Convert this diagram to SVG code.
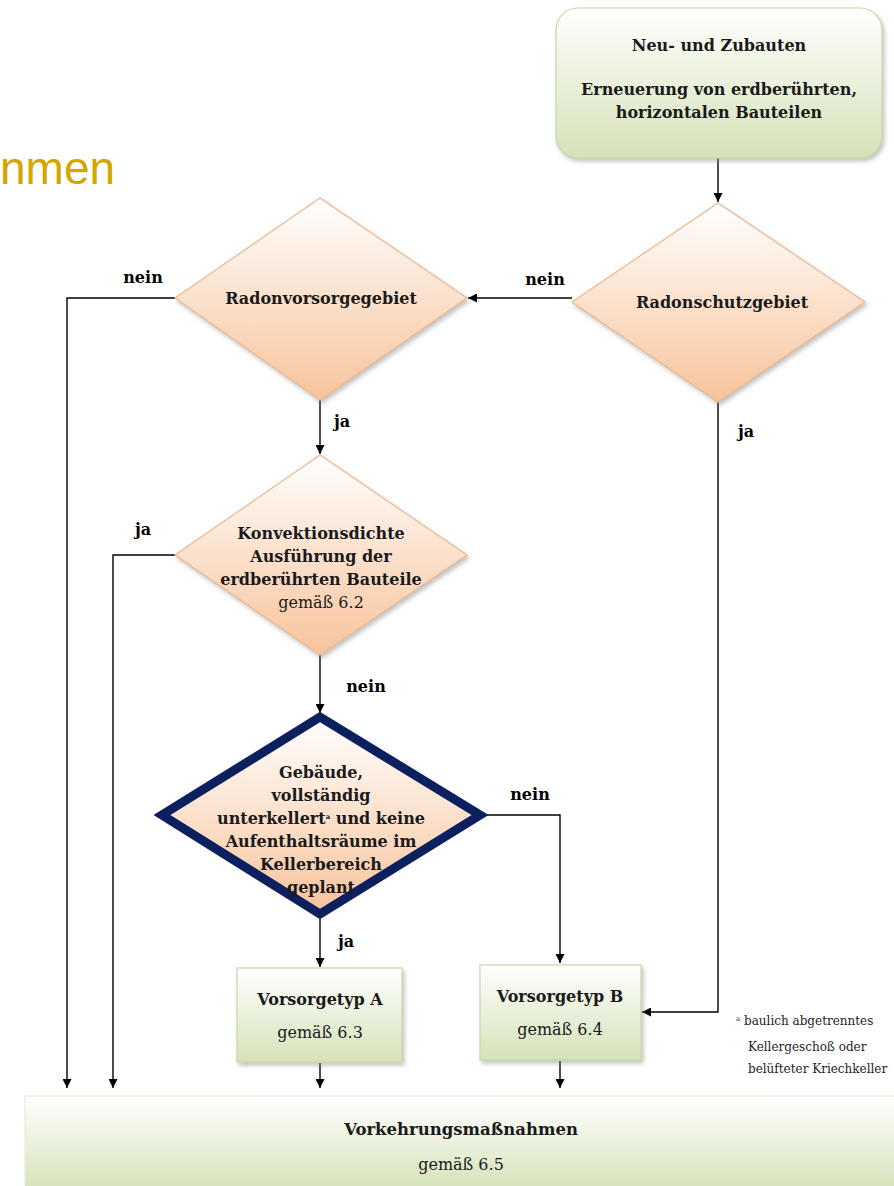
<svg xmlns="http://www.w3.org/2000/svg" width="894" height="1186" viewBox="0 0 894 1186">
<defs>
<linearGradient id="gGreen" x1="0" y1="0" x2="0" y2="1"><stop offset="0" stop-color="#ffffff"/><stop offset="1" stop-color="#d5e2b8"/></linearGradient>
<linearGradient id="gPeach" x1="0" y1="0" x2="0" y2="1"><stop offset="0" stop-color="#ffffff"/><stop offset="1" stop-color="#f7c39a"/></linearGradient>
<filter id="sh" x="-10%" y="-10%" width="130%" height="130%"><feDropShadow dx="2" dy="3" stdDeviation="2" flood-color="#888" flood-opacity="0.5"/></filter>
<marker id="arr" viewBox="0 0 10 10" refX="10" refY="5" markerWidth="9" markerHeight="9" markerUnits="userSpaceOnUse" orient="auto"><path d="M0,0 L10,5 L0,10 z" fill="#000"/></marker>
<style>
.t{font-family:"DejaVu Serif","Liberation Serif",serif;fill:#1a1a1a;text-anchor:middle}
.b{font-weight:bold;font-size:16px}
.n{font-size:16px}
.lbl{font-family:"DejaVu Serif","Liberation Serif",serif;font-weight:bold;font-size:16px;fill:#000;text-anchor:middle}
.ln{fill:none;stroke:#000;stroke-width:1.4}
.green{fill:url(#gGreen);stroke:#c9d8a8;stroke-width:1.2;filter:url(#sh)}
.peach{fill:url(#gPeach);stroke:#ebb98e;stroke-width:1.2;filter:url(#sh)}
</style>
</defs>
<rect width="894" height="1186" fill="#ffffff"/>
<text x="0" y="184" font-family="'Liberation Sans',Arial,sans-serif" font-size="46" fill="#d4a600">nmen</text>

<g id="connectors">
<line class="ln" x1="718" y1="158" x2="718" y2="202" marker-end="url(#arr)"/>
<line class="ln" x1="572" y1="298" x2="468" y2="298" marker-end="url(#arr)"/>
<polyline class="ln" points="175,298 67,298 67,1088" marker-end="url(#arr)"/>
<line class="ln" x1="320" y1="400" x2="320" y2="454" marker-end="url(#arr)"/>
<polyline class="ln" points="175,555 113,555 113,1088" marker-end="url(#arr)"/>
<line class="ln" x1="320" y1="655" x2="320" y2="713" marker-end="url(#arr)"/>
<polyline class="ln" points="484,815 560,815 560,963" marker-end="url(#arr)"/>
<line class="ln" x1="320" y1="919" x2="320" y2="967" marker-end="url(#arr)"/>
<polyline class="ln" points="718,402 718,1012 642,1012" marker-end="url(#arr)"/>
<line class="ln" x1="320" y1="1063" x2="320" y2="1088" marker-end="url(#arr)"/>
<line class="ln" x1="560" y1="1061" x2="560" y2="1088" marker-end="url(#arr)"/>
<text class="lbl" x="143" y="283">nein</text>
<text class="lbl" x="545" y="285">nein</text>
<text class="lbl" x="342" y="427">ja</text>
<text class="lbl" x="746" y="437">ja</text>
<text class="lbl" x="143" y="535">ja</text>
<text class="lbl" x="366" y="692">nein</text>
<text class="lbl" x="530" y="800">nein</text>
<text class="lbl" x="346" y="947">ja</text>
</g>

<g id="start">
<rect class="green" x="556" y="8" width="326" height="150" rx="22"/>
<text class="t b" x="719" y="51">Neu- und Zubauten</text>
<text class="t b" x="719" y="95">Erneuerung von erdberührten,</text>
<text class="t b" x="719" y="118">horizontalen Bauteilen</text>
</g>

<g id="radonschutzgebiet">
<polygon class="peach" points="718,203 865,302 718,402 572,302"/>
<text class="t b" x="722" y="308">Radonschutzgebiet</text>
</g>

<g id="radonvorsorgegebiet">
<polygon class="peach" points="320,198 467,298 320,400 175,298"/>
<text class="t b" x="321" y="304">Radonvorsorgegebiet</text>
</g>

<g id="konvektion">
<polygon class="peach" points="320,455 467,555 320,655 175,555"/>
<text class="t b" x="321" y="539">Konvektionsdichte</text>
<text class="t b" x="321" y="562">Ausführung der</text>
<text class="t b" x="321" y="585">erdberührten Bauteile</text>
<text class="t n" x="321" y="608">gemäß 6.2</text>
</g>

<g id="unterkellert">
<polygon points="320,717 480,815 320,914 162,815" fill="url(#gPeach)" stroke="#0c1f5e" stroke-width="9" stroke-linejoin="miter"/>
<text class="t b" x="321" y="778">Gebäude,</text>
<text class="t b" x="321" y="801">vollständig</text>
<text class="t b" x="321" y="824">unterkellert<tspan font-size="7" dy="-5">a</tspan><tspan dy="5"> und keine</tspan></text>
<text class="t b" x="321" y="847">Aufenthaltsräume im</text>
<text class="t b" x="321" y="870">Kellerbereich</text>
<text class="t b" x="321" y="893">geplant</text>
</g>

<g id="vorsorgetypA">
<rect class="green" x="237" y="968" width="165" height="94"/>
<text class="t b" x="320" y="1005">Vorsorgetyp A</text>
<text class="t n" x="320" y="1038">gemäß 6.3</text>
</g>

<g id="vorsorgetypB">
<rect class="green" x="480" y="965" width="161" height="95"/>
<text class="t b" x="560" y="1002">Vorsorgetyp B</text>
<text class="t n" x="560" y="1035">gemäß 6.4</text>
</g>

<g id="vorkehrung">
<rect x="25" y="1096" width="875" height="95" fill="url(#gGreen)" stroke="#e3ead3" stroke-width="1"/>
<text class="t b" x="461" y="1135" style="font-size:16.5px">Vorkehrungsmaßnahmen</text>
<text class="t n" x="461" y="1170">gemäß 6.5</text>
</g>

<g id="footnote" font-family="'DejaVu Serif','Liberation Serif',serif" font-size="12" fill="#222">
<text x="736" y="1025"><tspan font-size="7" dy="-4">a</tspan><tspan dy="4"> baulich abgetrenntes</tspan></text>
<text x="748" y="1051">Kellergeschoß oder</text>
<text x="748" y="1073">belüfteter Kriechkeller</text>
</g>
</svg>
